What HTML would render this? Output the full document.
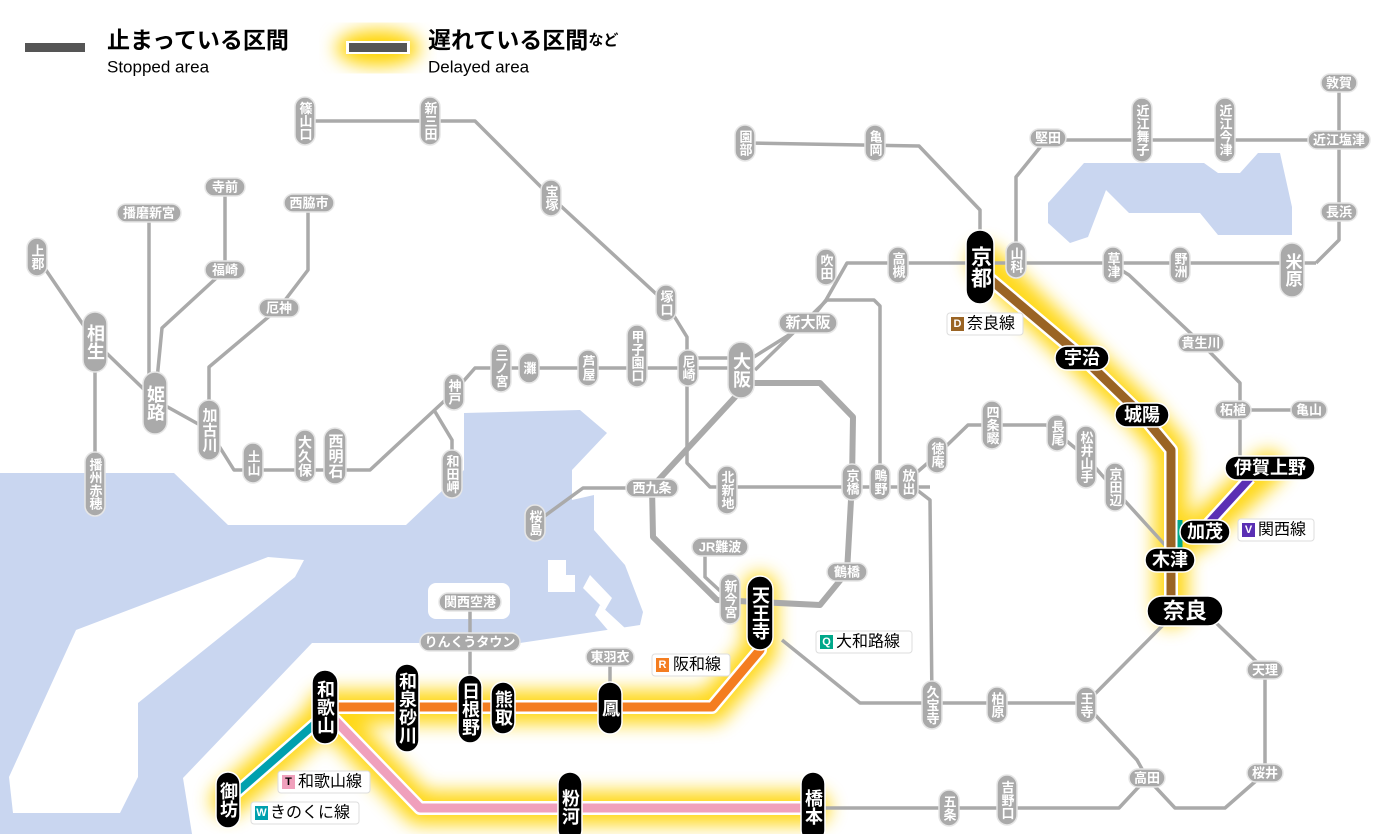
<!DOCTYPE html>
<html><head><meta charset="utf-8">
<style>
html,body{margin:0;padding:0;background:#fff;}
svg{display:block;}
text{font-family:"Liberation Sans","Noto Sans CJK JP",sans-serif;}
.g{fill:#aaa;stroke:#e6e6e6;stroke-width:1.5}
.b{fill:#000;stroke:#fff;stroke-width:1.5}
.t{fill:#fff;font-size:13px;font-weight:bold;text-anchor:middle;dominant-baseline:central}
.tb{fill:#fff;font-size:18px;font-weight:bold;text-anchor:middle;dominant-baseline:central}
.v{writing-mode:vertical-rl;letter-spacing:0}
.ln{fill:none;stroke:#aaa;stroke-width:3.5;stroke-linejoin:round}
.lp{fill:#fff;stroke:#ddd;stroke-width:1}
.lt{font-size:16px;fill:#000;dominant-baseline:central}
</style></head><body>
<svg width="1400" height="834" viewBox="0 0 1400 834" xmlns="http://www.w3.org/2000/svg">
<defs>
<filter id="gl" x="-20%" y="-20%" width="140%" height="140%"><feGaussianBlur stdDeviation="9"/></filter>
</defs>
<g fill="#c9d6f0">
<polygon points="1048,203 1084,163 1204,163 1218,173 1240,173 1258,153 1280,153 1292,207 1292,235 1218,235 1200,213 1129,213 1106,190 1088,237 1070,243 1048,223"/>
<polygon points="0,473 174,473 228,525 406,525 464,470 464,413 580,410 607,433 572,470 572,500 594,495 594,530 625,565 643,612 640,625 520,643 312,643 183,778 192,834 0,834"/>
</g>
<g fill="#fff">
<polygon points="9,777 76,630 268,557 304,560 295,577 138,703 138,777 120,813 13,813"/>
<rect x="428" y="583" width="82" height="36" rx="8"/>
<polygon points="548,560 566,560 566,575 575,575 575,592 548,592"/>
<polygon points="590,575 612,598 605,610 583,588"/>
<polygon points="600,605 625,628 612,635 595,615"/>
</g>
<rect x="25" y="43" width="60" height="9" fill="#555"/>
<text x="107" y="40" style="font-size:23px;font-weight:bold;dominant-baseline:central">止まっている区間</text>
<text x="107" y="67" style="font-size:17px;dominant-baseline:central">Stopped area</text>
<ellipse cx="378" cy="48" rx="42" ry="18" fill="#ffd400" filter="url(#gl)"/>
<rect x="346" y="41" width="64" height="13" fill="#fff"/>
<rect x="349" y="43" width="58" height="9" fill="#555"/>
<text x="428" y="40" style="font-size:23px;font-weight:bold;dominant-baseline:central">遅れている区間<tspan style="font-size:15px">など</tspan></text>
<text x="428" y="67" style="font-size:17px;dominant-baseline:central">Delayed area</text>
<g fill="none" stroke="#ffd400" stroke-width="34" stroke-linejoin="round" stroke-linecap="round" filter="url(#gl)" opacity="0.9">
<polyline points="985,262 1082,357 1142,415 1171,450 1171,610"/>
<polyline points="1268,468 1195,535"/>
<polyline points="760,590 760,650 712,707 325,707"/>
<polyline points="330,715 420,808 813,808"/>
<polyline points="325,715 228,800"/>
</g>
<g class="ln">
<polyline points="305,121 475,121 551,197 666,303 687,337 687,463 710,487 930,487"/>
<polyline points="225,187 225,270 162,328 155,400"/>
<polyline points="149,213 149,400"/>
<polyline points="37,257 95,342 155,400 209,430 234,470 370,470 454,392 475,368 741,368"/>
<polyline points="95,342 95,483"/>
<polyline points="308,203 308,270 279,308 209,367 209,430"/>
<polyline points="434,410 452,440 452,480"/>
<polyline points="688,358 741,358"/>
<polyline points="741,365 808,323 826,300 847,263 1316,263"/>
<polyline points="755,370 827,300 874,300 880,306 880,487"/>
<polyline points="652,488 583,488 535,523"/>
<polyline points="705,547 705,577 730,600"/>
<polyline points="908,480 937,455 968,425 1046,425 1057,433 1086,457 1115,490 1165,545"/>
<polyline points="917,490 930,500 932,705"/>
<polyline points="745,143 919,146 980,210 980,240"/>
<polyline points="1016,263 1016,177 1046,140 1339,140"/>
<polyline points="1339,83 1339,240 1316,263"/>
<polyline points="1113,265 1129,275 1201,343 1240,383 1240,480"/>
<polyline points="1233,410 1309,410"/>
<polyline points="782,640 860,703 1086,703 1168,620"/>
<polyline points="1086,705 1137,760 1147,778 1119,808 813,808"/>
<polyline points="1210,617 1265,670 1265,773 1225,808 1175,808 1147,778"/>
<polyline points="470,602 470,707"/>
<polyline points="610,657 610,707"/>
</g>
<g fill="none" stroke="#aaa" stroke-width="6" stroke-linejoin="round">
<polyline points="750,383 820,383 853,417 852,482 847,572 820,605 717,600 653,537 652,487 737,395"/>
</g>
<g fill="none" stroke-linejoin="round">
<polyline points="985,275 1082,357 1142,415 1171,450 1171,610" stroke="#fff" stroke-width="14"/>
<polyline points="985,275 1082,357 1142,415 1171,450 1171,610" stroke="#9a6424" stroke-width="9"/>
<polyline points="1180,520 1180,555" stroke="#00a88a" stroke-width="5"/>
<polyline points="1250,478 1198,535" stroke="#fff" stroke-width="13"/>
<polyline points="1250,478 1198,535" stroke="#5a2fb4" stroke-width="8"/>
<polyline points="760,640 760,650 712,707 325,707" stroke="#fff" stroke-width="14"/>
<polyline points="760,640 760,650 712,707 325,707" stroke="#f47d20" stroke-width="9"/>
<polyline points="330,715 420,808 813,808" stroke="#fff" stroke-width="14"/>
<polyline points="330,715 420,808 813,808" stroke="#f0a0bc" stroke-width="9"/>
<polyline points="325,715 228,800" stroke="#fff" stroke-width="13"/>
<polyline points="325,715 228,800" stroke="#00a0ae" stroke-width="8"/>
</g>
<g>
<rect class="g" x="295" y="97" width="20" height="48" rx="10"/><text class="t v" x="305" y="121">篠山口</text>
<rect class="g" x="420" y="97" width="20" height="48" rx="10"/><text class="t v" x="430" y="121">新三田</text>
<rect class="g" x="541" y="180" width="20" height="36" rx="10"/><text class="t v" x="551" y="198">宝塚</text>
<rect class="g" x="656" y="285" width="20" height="36" rx="10"/><text class="t v" x="666" y="303">塚口</text>
<rect class="g" x="678" y="350" width="20" height="36" rx="10"/><text class="t v" x="688" y="368">尼崎</text>
<rect class="g" x="627" y="325" width="20" height="62" rx="10"/><text class="t v" x="637" y="356">甲子園口</text>
<rect class="g" x="578" y="350" width="20" height="36" rx="10"/><text class="t v" x="588" y="368">芦屋</text>
<rect class="g" x="519" y="353" width="20" height="30" rx="10"/><text class="t v" x="529" y="368">灘</text>
<rect class="g" x="491" y="344" width="20" height="48" rx="10"/><text class="t v" x="501" y="368">三ノ宮</text>
<rect class="g" x="444" y="374" width="20" height="36" rx="10"/><text class="t v" x="454" y="392">神戸</text>
<rect class="g" x="442" y="450" width="20" height="48" rx="10"/><text class="t v" x="452" y="474">和田岬</text>
<rect class="g" x="324" y="428" width="22" height="56" rx="11"/><text class="t v" x="335" y="456" style="font-size:15px">西明石</text>
<rect class="g" x="295" y="430" width="20" height="52" rx="10"/><text class="t v" x="305" y="456" style="font-size:14px">大久保</text>
<rect class="g" x="243" y="443" width="20" height="40" rx="10"/><text class="t v" x="253" y="463">土山</text>
<rect class="g" x="198" y="400" width="22" height="60" rx="11"/><text class="t v" x="209" y="430" style="font-size:15px">加古川</text>
<rect class="g" x="143" y="372" width="24" height="62" rx="12"/><text class="t v" x="155" y="403" style="font-size:18px">姫路</text>
<rect class="g" x="83" y="312" width="24" height="60" rx="12"/><text class="t v" x="95" y="342" style="font-size:18px">相生</text>
<rect class="g" x="27" y="238" width="20" height="38" rx="10"/><text class="t v" x="37" y="257">上郡</text>
<rect class="g" x="85" y="452" width="20" height="64" rx="10"/><text class="t v" x="95" y="484">播州赤穂</text>
<rect class="g" x="525" y="505" width="20" height="36" rx="10"/><text class="t v" x="535" y="523">桜島</text>
<rect class="g" x="717" y="466" width="20" height="48" rx="10"/><text class="t v" x="727" y="490">北新地</text>
<rect class="g" x="842" y="464" width="20" height="36" rx="10"/><text class="t v" x="852" y="482">京橋</text>
<rect class="g" x="870" y="464" width="20" height="36" rx="10"/><text class="t v" x="880" y="482">鴫野</text>
<rect class="g" x="898" y="464" width="20" height="36" rx="10"/><text class="t v" x="908" y="482">放出</text>
<rect class="g" x="927" y="437" width="20" height="36" rx="10"/><text class="t v" x="937" y="455">徳庵</text>
<rect class="g" x="982" y="401" width="20" height="48" rx="10"/><text class="t v" x="992" y="425">四条畷</text>
<rect class="g" x="1047" y="415" width="20" height="36" rx="10"/><text class="t v" x="1057" y="433">長尾</text>
<rect class="g" x="1076" y="426" width="20" height="62" rx="10"/><text class="t v" x="1086" y="457">松井山手</text>
<rect class="g" x="1105" y="463" width="20" height="48" rx="10"/><text class="t v" x="1115" y="487">京田辺</text>
<rect class="g" x="720" y="574" width="20" height="50" rx="10"/><text class="t v" x="730" y="599">新今宮</text>
<rect class="g" x="816" y="249" width="20" height="36" rx="10"/><text class="t v" x="826" y="267">吹田</text>
<rect class="g" x="888" y="247" width="20" height="36" rx="10"/><text class="t v" x="898" y="265">高槻</text>
<rect class="g" x="735" y="125" width="20" height="36" rx="10"/><text class="t v" x="745" y="143">園部</text>
<rect class="g" x="865" y="125" width="20" height="36" rx="10"/><text class="t v" x="875" y="143">亀岡</text>
<rect class="g" x="1006" y="242" width="20" height="36" rx="10"/><text class="t v" x="1016" y="260">山科</text>
<rect class="g" x="1132" y="98" width="20" height="64" rx="10"/><text class="t v" x="1142" y="130">近江舞子</text>
<rect class="g" x="1215" y="98" width="20" height="64" rx="10"/><text class="t v" x="1225" y="130">近江今津</text>
<rect class="g" x="1103" y="247" width="20" height="36" rx="10"/><text class="t v" x="1113" y="265">草津</text>
<rect class="g" x="1170" y="247" width="20" height="36" rx="10"/><text class="t v" x="1180" y="265">野洲</text>
<rect class="g" x="1280" y="243" width="24" height="54" rx="12"/><text class="t v" x="1292" y="270" style="font-size:17px">米原</text>
<rect class="g" x="728" y="342" width="26" height="56" rx="13"/><text class="t v" x="741" y="370" style="font-size:18px">大阪</text>
<rect class="g" x="922" y="681" width="20" height="48" rx="10"/><text class="t v" x="932" y="705">久宝寺</text>
<rect class="g" x="987" y="687" width="20" height="36" rx="10"/><text class="t v" x="997" y="705">柏原</text>
<rect class="g" x="1076" y="687" width="20" height="36" rx="10"/><text class="t v" x="1086" y="705">王寺</text>
<rect class="g" x="939" y="790" width="20" height="36" rx="10"/><text class="t v" x="949" y="808">五条</text>
<rect class="g" x="997" y="775" width="20" height="50" rx="10"/><text class="t v" x="1007" y="800">吉野口</text>
</g>
<g>
<rect class="g" x="205" y="178" width="40" height="18" rx="9"/><text class="t" x="225" y="187">寺前</text>
<rect class="g" x="117" y="204" width="64" height="18" rx="9"/><text class="t" x="149" y="213">播磨新宮</text>
<rect class="g" x="205" y="261" width="40" height="18" rx="9"/><text class="t" x="225" y="270">福崎</text>
<rect class="g" x="284" y="194" width="50" height="18" rx="9"/><text class="t" x="309" y="203">西脇市</text>
<rect class="g" x="259" y="299" width="40" height="18" rx="9"/><text class="t" x="279" y="308">厄神</text>
<rect class="g" x="626" y="479" width="52" height="18" rx="9"/><text class="t" x="652" y="488">西九条</text>
<rect class="g" x="692" y="538" width="56" height="18" rx="9"/><text class="t" x="720" y="547">JR難波</text>
<rect class="g" x="827" y="563" width="40" height="18" rx="9"/><text class="t" x="847" y="572">鶴橋</text>
<rect class="g" x="779" y="313" width="58" height="20" rx="10"/><text class="t" x="808" y="323" style="font-size:15px">新大阪</text>
<rect class="g" x="1030" y="129" width="36" height="18" rx="9"/><text class="t" x="1048" y="138">堅田</text>
<rect class="g" x="1308" y="131" width="62" height="18" rx="9"/><text class="t" x="1339" y="140">近江塩津</text>
<rect class="g" x="1321" y="74" width="36" height="18" rx="9"/><text class="t" x="1339" y="83">敦賀</text>
<rect class="g" x="1321" y="203" width="36" height="18" rx="9"/><text class="t" x="1339" y="212">長浜</text>
<rect class="g" x="1178" y="334" width="46" height="18" rx="9"/><text class="t" x="1201" y="343">貴生川</text>
<rect class="g" x="1215" y="401" width="36" height="18" rx="9"/><text class="t" x="1233" y="410">柘植</text>
<rect class="g" x="1291" y="401" width="36" height="18" rx="9"/><text class="t" x="1309" y="410">亀山</text>
<rect class="g" x="1247" y="661" width="36" height="18" rx="9"/><text class="t" x="1265" y="670">天理</text>
<rect class="g" x="1247" y="764" width="36" height="18" rx="9"/><text class="t" x="1265" y="773">桜井</text>
<rect class="g" x="1129" y="769" width="36" height="18" rx="9"/><text class="t" x="1147" y="778">高田</text>
<rect class="g" x="439" y="593" width="62" height="18" rx="9"/><text class="t" x="470" y="602">関西空港</text>
<rect class="g" x="420" y="633" width="100" height="18" rx="9"/><text class="t" x="470" y="642">りんくうタウン</text>
<rect class="g" x="586" y="648" width="48" height="18" rx="9"/><text class="t" x="610" y="657">東羽衣</text>
</g>
<g>
<rect class="b" x="966" y="230" width="28" height="74" rx="14"/><text class="tb v" x="980" y="267" style="font-size:21px">京都</text>
<rect class="b" x="1055" y="346" width="54" height="24" rx="12"/><text class="tb" x="1082" y="358">宇治</text>
<rect class="b" x="1115" y="403" width="54" height="24" rx="12"/><text class="tb" x="1142" y="415">城陽</text>
<rect class="b" x="1225" y="456" width="90" height="24" rx="12"/><text class="tb" x="1270" y="468">伊賀上野</text>
<rect class="b" x="1180" y="520" width="50" height="24" rx="12"/><text class="tb" x="1205" y="532">加茂</text>
<rect class="b" x="1145" y="548" width="50" height="24" rx="12"/><text class="tb" x="1170" y="560">木津</text>
<rect class="b" x="1147" y="596" width="76" height="30" rx="15"/><text class="tb" x="1185" y="611" style="font-size:22px">奈良</text>
<rect class="b" x="747" y="576" width="26" height="74" rx="13"/><text class="tb v" x="760" y="613">天王寺</text>
<rect class="b" x="598" y="682" width="24" height="52" rx="12"/><text class="tb v" x="610" y="708">鳳</text>
<rect class="b" x="491" y="682" width="24" height="52" rx="12"/><text class="tb v" x="503" y="708">熊取</text>
<rect class="b" x="458" y="675" width="24" height="68" rx="12"/><text class="tb v" x="470" y="709">日根野</text>
<rect class="b" x="395" y="664" width="24" height="88" rx="12"/><text class="tb v" x="407" y="708">和泉砂川</text>
<rect class="b" x="312" y="670" width="26" height="74" rx="13"/><text class="tb v" x="325" y="707">和歌山</text>
<rect class="b" x="558" y="772" width="24" height="70" rx="12"/><text class="tb v" x="570" y="807">粉河</text>
<rect class="b" x="801" y="772" width="24" height="70" rx="12"/><text class="tb v" x="813" y="807">橋本</text>
<rect class="b" x="216" y="772" width="24" height="56" rx="12"/><text class="tb v" x="228" y="800">御坊</text>
</g>
<g>
<rect class="lp" x="947" y="313" width="76" height="22" rx="3"/><rect x="951" y="317" width="13" height="14" fill="#9a6424"/><text x="957.5" y="324" style="font-size:11px;fill:#fff;font-weight:bold;text-anchor:middle;dominant-baseline:central">D</text><text class="lt" x="967" y="324">奈良線</text>
<rect class="lp" x="1238" y="519" width="76" height="22" rx="3"/><rect x="1242" y="523" width="13" height="14" fill="#5a2fb4"/><text x="1248.5" y="530" style="font-size:11px;fill:#fff;font-weight:bold;text-anchor:middle;dominant-baseline:central">V</text><text class="lt" x="1258" y="530">関西線</text>
<rect class="lp" x="816" y="631" width="96" height="22" rx="3"/><rect x="820" y="635" width="13" height="14" fill="#00a88a"/><text x="826.5" y="642" style="font-size:11px;fill:#fff;font-weight:bold;text-anchor:middle;dominant-baseline:central">Q</text><text class="lt" x="836" y="642">大和路線</text>
<rect class="lp" x="652" y="654" width="78" height="22" rx="3"/><rect x="656" y="658" width="13" height="14" fill="#f47d20"/><text x="662.5" y="665" style="font-size:11px;fill:#fff;font-weight:bold;text-anchor:middle;dominant-baseline:central">R</text><text class="lt" x="673" y="665">阪和線</text>
<rect class="lp" x="278" y="771" width="92" height="22" rx="3"/><rect x="282" y="775" width="13" height="14" fill="#f0a0bc"/><text x="288.5" y="782" style="font-size:11px;fill:#000;font-weight:bold;text-anchor:middle;dominant-baseline:central">T</text><text class="lt" x="298" y="782">和歌山線</text>
<rect class="lp" x="251" y="802" width="108" height="22" rx="3"/><rect x="255" y="806" width="13" height="14" fill="#00a0ae"/><text x="261.5" y="813" style="font-size:11px;fill:#fff;font-weight:bold;text-anchor:middle;dominant-baseline:central">W</text><text class="lt" x="270" y="813">きのくに線</text>
</g>
</svg>
</body></html>
